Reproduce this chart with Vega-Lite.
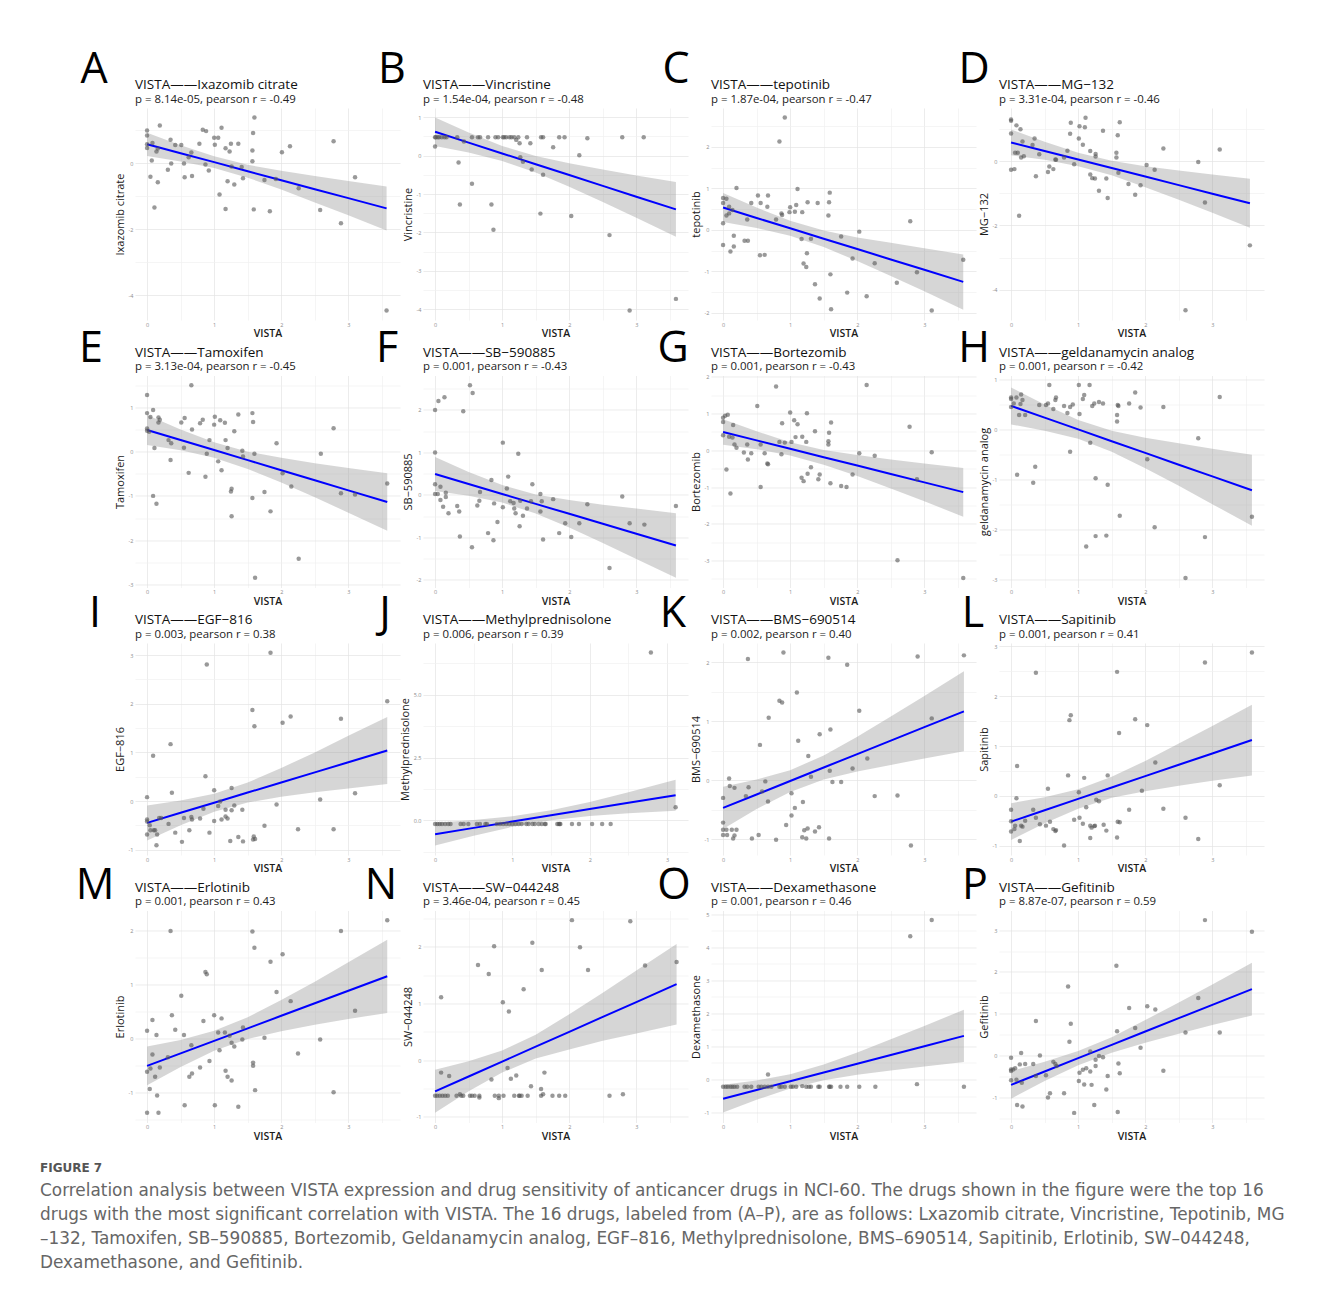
{
"$schema":"https://vega.github.io/schema/vega-lite/v6.json",
"padding":{"left":40,"top":49,"right":10,"bottom":10},
"background":"white",
"bounds":"flush",
"columns":4,
"spacing":{"row":55.5,"column":23},
"title":{"text":"FIGURE 7","subtitle":["Correlation analysis between VISTA expression and drug sensitivity of anticancer drugs in NCI-60. The drugs shown in the figure were the top 16","drugs with the most significant correlation with VISTA. The 16 drugs, labeled from (A–P), are as follows: Lxazomib citrate, Vincristine, Tepotinib, MG","–132, Tamoxifen, SB–590885, Bortezomib, Geldanamycin analog, EGF–816, Methylprednisolone, BMS–690514, Sapitinib, Erlotinib, SW–044248,","Dexamethasone, and Gefitinib."],"orient":"bottom","anchor":"start","frame":"group","dx":-95,"offset":21,"font":"DejaVu Sans","fontSize":12,"fontWeight":600,"color":"#555555","subtitleFont":"DejaVu Sans","subtitleFontSize":16.9,"subtitleColor":"#666666","subtitleLineHeight":24,"subtitlePadding":8},
"config":{
"font":"Open Sans",
"view":{"stroke":null},
"axis":{"labelFontSize":5.5,"labelColor":"#8c8c8c","labelPadding":2,"ticks":false,"domain":false,"gridWidth":0.7,"titleFont":"Open Sans","titleFontSize":11,"titleFontWeight":"normal","titleColor":"#1a1a1a"},
"axisX":{"titlePadding":1,"titleFontWeight":600,"titleFontSize":10.5},
"axisY":{"titlePadding":3},
"title":{"anchor":"start","frame":"group","font":"Open Sans","fontSize":13.5,"fontWeight":"normal","color":"#111111","subtitleFont":"Open Sans","subtitleFontSize":11.4,"subtitleColor":"#222222","subtitlePadding":2},
"area":{"color":"#999999","opacity":0.4},
"line":{"color":"#0000FF","strokeWidth":2},
"circle":{"color":"#555555","opacity":0.6,"size":20},
"text":{"font":"Open Sans","fontSize":43,"align":"center","baseline":"alphabetic","color":"#000000"}
},
"datasets":{
"fit":[
{"p":"A","x":0,"y":0.57,"lo":0.22,"hi":0.92},{"p":"A","x":0.5,"y":0.30,"lo":0.05,"hi":0.54},{"p":"A","x":1,"y":0.03,"lo":-0.15,"hi":0.21},{"p":"A","x":1.5,"y":-0.245,"lo":-0.44,"hi":-0.05},{"p":"A","x":2,"y":-0.516,"lo":-0.80,"hi":-0.23},{"p":"A","x":2.5,"y":-0.788,"lo":-1.19,"hi":-0.39},{"p":"A","x":3,"y":-1.059,"lo":-1.58,"hi":-0.54},{"p":"A","x":3.57,"y":-1.37,"lo":-2.04,"hi":-0.71},
{"p":"B","x":0,"y":0.62,"lo":0.25,"hi":0.99},{"p":"B","x":0.5,"y":0.339,"lo":0.08,"hi":0.60},{"p":"B","x":1,"y":0.057,"lo":-0.14,"hi":0.25},{"p":"B","x":1.5,"y":-0.225,"lo":-0.44,"hi":-0.01},{"p":"B","x":2,"y":-0.506,"lo":-0.81,"hi":-0.20},{"p":"B","x":2.5,"y":-0.788,"lo":-1.21,"hi":-0.36},{"p":"B","x":3,"y":-1.069,"lo":-1.62,"hi":-0.52},{"p":"B","x":3.59,"y":-1.40,"lo":-2.11,"hi":-0.69},
{"p":"C","x":0,"y":0.54,"lo":0.19,"hi":0.89},{"p":"C","x":0.5,"y":0.29,"lo":0.05,"hi":0.54},{"p":"C","x":1,"y":0.04,"lo":-0.14,"hi":0.22},{"p":"C","x":1.5,"y":-0.21,"lo":-0.41,"hi":-0.01},{"p":"C","x":2,"y":-0.46,"lo":-0.75,"hi":-0.18},{"p":"C","x":2.5,"y":-0.71,"lo":-1.11,"hi":-0.31},{"p":"C","x":3,"y":-0.96,"lo":-1.48,"hi":-0.44},{"p":"C","x":3.58,"y":-1.25,"lo":-1.92,"hi":-0.59},
{"p":"D","x":0,"y":0.58,"lo":0.18,"hi":0.98},{"p":"D","x":0.5,"y":0.315,"lo":0.04,"hi":0.60},{"p":"D","x":1,"y":0.049,"lo":-0.16,"hi":0.26},{"p":"D","x":1.5,"y":-0.217,"lo":-0.44,"hi":0.01},{"p":"D","x":2,"y":-0.482,"lo":-0.81,"hi":-0.16},{"p":"D","x":2.5,"y":-0.748,"lo":-1.20,"hi":-0.29},{"p":"D","x":3,"y":-1.013,"lo":-1.61,"hi":-0.42},{"p":"D","x":3.56,"y":-1.31,"lo":-2.07,"hi":-0.55},
{"p":"E","x":0,"y":0.49,"lo":0.15,"hi":0.83},{"p":"E","x":0.5,"y":0.263,"lo":0.03,"hi":0.50},{"p":"E","x":1,"y":0.035,"lo":-0.14,"hi":0.21},{"p":"E","x":1.5,"y":-0.193,"lo":-0.39,"hi":0.0},{"p":"E","x":2,"y":-0.42,"lo":-0.70,"hi":-0.14},{"p":"E","x":2.5,"y":-0.648,"lo":-1.03,"hi":-0.26},{"p":"E","x":3,"y":-0.875,"lo":-1.38,"hi":-0.37},{"p":"E","x":3.58,"y":-1.14,"lo":-1.79,"hi":-0.49},
{"p":"F","x":0,"y":0.49,"lo":0.09,"hi":0.89},{"p":"F","x":0.5,"y":0.256,"lo":-0.02,"hi":0.54},{"p":"F","x":1,"y":0.022,"lo":-0.18,"hi":0.23},{"p":"F","x":1.5,"y":-0.212,"lo":-0.44,"hi":0.01},{"p":"F","x":2,"y":-0.446,"lo":-0.77,"hi":-0.12},{"p":"F","x":2.5,"y":-0.68,"lo":-1.13,"hi":-0.23},{"p":"F","x":3,"y":-0.914,"lo":-1.51,"hi":-0.32},{"p":"F","x":3.59,"y":-1.19,"lo":-1.95,"hi":-0.43},
{"p":"G","x":0,"y":0.5,"lo":0.15,"hi":0.85},{"p":"G","x":0.5,"y":0.271,"lo":0.03,"hi":0.52},{"p":"G","x":1,"y":0.042,"lo":-0.14,"hi":0.22},{"p":"G","x":1.5,"y":-0.187,"lo":-0.39,"hi":0.01},{"p":"G","x":2,"y":-0.416,"lo":-0.70,"hi":-0.13},{"p":"G","x":2.5,"y":-0.645,"lo":-1.04,"hi":-0.25},{"p":"G","x":3,"y":-0.874,"lo":-1.39,"hi":-0.36},{"p":"G","x":3.58,"y":-1.14,"lo":-1.81,"hi":-0.48},
{"p":"H","x":0,"y":0.48,"lo":0.11,"hi":0.85},{"p":"H","x":0.5,"y":0.245,"lo":-0.02,"hi":0.51},{"p":"H","x":1,"y":0.009,"lo":-0.18,"hi":0.20},{"p":"H","x":1.5,"y":-0.227,"lo":-0.44,"hi":-0.02},{"p":"H","x":2,"y":-0.462,"lo":-0.77,"hi":-0.16},{"p":"H","x":2.5,"y":-0.698,"lo":-1.12,"hi":-0.27},{"p":"H","x":3,"y":-0.933,"lo":-1.49,"hi":-0.38},{"p":"H","x":3.59,"y":-1.21,"lo":-1.92,"hi":-0.50},
{"p":"I","x":0,"y":-0.45,"lo":-0.81,"hi":-0.09},{"p":"I","x":0.5,"y":-0.242,"lo":-0.50,"hi":0.01},{"p":"I","x":1,"y":-0.034,"lo":-0.22,"hi":0.15},{"p":"I","x":1.5,"y":0.174,"lo":-0.03,"hi":0.38},{"p":"I","x":2,"y":0.382,"lo":0.09,"hi":0.68},{"p":"I","x":2.5,"y":0.59,"lo":0.18,"hi":1.00},{"p":"I","x":3,"y":0.798,"lo":0.26,"hi":1.34},{"p":"I","x":3.58,"y":1.04,"lo":0.35,"hi":1.73},
{"p":"J","x":0,"y":-0.55,"lo":-1.0,"hi":-0.1},{"p":"J","x":0.5,"y":-0.30,"lo":-0.61,"hi":0.01},{"p":"J","x":1,"y":-0.05,"lo":-0.26,"hi":0.16},{"p":"J","x":1.5,"y":0.20,"lo":0.0,"hi":0.40},{"p":"J","x":2,"y":0.45,"lo":0.17,"hi":0.73},{"p":"J","x":2.5,"y":0.70,"lo":0.28,"hi":1.12},{"p":"J","x":3.11,"y":1.0,"lo":0.38,"hi":1.62},
{"p":"K","x":0,"y":-0.47,"lo":-0.83,"hi":-0.11},{"p":"K","x":0.5,"y":-0.242,"lo":-0.49,"hi":0.01},{"p":"K","x":1,"y":-0.013,"lo":-0.20,"hi":0.17},{"p":"K","x":1.5,"y":0.216,"lo":0.01,"hi":0.42},{"p":"K","x":2,"y":0.444,"lo":0.15,"hi":0.74},{"p":"K","x":2.5,"y":0.673,"lo":0.26,"hi":1.08},{"p":"K","x":3,"y":0.901,"lo":0.37,"hi":1.43},{"p":"K","x":3.59,"y":1.17,"lo":0.49,"hi":1.85},
{"p":"L","x":0,"y":-0.52,"lo":-0.89,"hi":-0.15},{"p":"L","x":0.5,"y":-0.292,"lo":-0.55,"hi":-0.03},{"p":"L","x":1,"y":-0.063,"lo":-0.26,"hi":0.13},{"p":"L","x":1.5,"y":0.166,"lo":-0.04,"hi":0.38},{"p":"L","x":2,"y":0.394,"lo":0.09,"hi":0.70},{"p":"L","x":2.5,"y":0.623,"lo":0.20,"hi":1.05},{"p":"L","x":3,"y":0.851,"lo":0.30,"hi":1.40},{"p":"L","x":3.59,"y":1.12,"lo":0.41,"hi":1.83},
{"p":"M","x":0,"y":-0.5,"lo":-0.86,"hi":-0.14},{"p":"M","x":0.5,"y":-0.268,"lo":-0.52,"hi":-0.02},{"p":"M","x":1,"y":-0.036,"lo":-0.22,"hi":0.15},{"p":"M","x":1.5,"y":0.196,"lo":0.0,"hi":0.40},{"p":"M","x":2,"y":0.428,"lo":0.14,"hi":0.72},{"p":"M","x":2.5,"y":0.66,"lo":0.26,"hi":1.06},{"p":"M","x":3,"y":0.892,"lo":0.37,"hi":1.42},{"p":"M","x":3.58,"y":1.16,"lo":0.48,"hi":1.84},
{"p":"N","x":0,"y":-0.55,"lo":-0.93,"hi":-0.17},{"p":"N","x":0.5,"y":-0.288,"lo":-0.55,"hi":-0.02},{"p":"N","x":1,"y":-0.025,"lo":-0.22,"hi":0.17},{"p":"N","x":1.5,"y":0.238,"lo":0.03,"hi":0.45},{"p":"N","x":2,"y":0.5,"lo":0.19,"hi":0.81},{"p":"N","x":2.5,"y":0.763,"lo":0.34,"hi":1.19},{"p":"N","x":3,"y":1.025,"lo":0.47,"hi":1.58},{"p":"N","x":3.6,"y":1.34,"lo":0.63,"hi":2.05},
{"p":"O","x":0,"y":-0.58,"lo":-1.0,"hi":-0.16},{"p":"O","x":0.5,"y":-0.316,"lo":-0.61,"hi":-0.03},{"p":"O","x":1,"y":-0.051,"lo":-0.27,"hi":0.16},{"p":"O","x":1.5,"y":0.214,"lo":-0.02,"hi":0.45},{"p":"O","x":2,"y":0.478,"lo":0.14,"hi":0.82},{"p":"O","x":2.5,"y":0.743,"lo":0.27,"hi":1.22},{"p":"O","x":3,"y":1.007,"lo":0.39,"hi":1.62},{"p":"O","x":3.59,"y":1.32,"lo":0.53,"hi":2.11},
{"p":"P","x":0,"y":-0.7,"lo":-1.03,"hi":-0.37},{"p":"P","x":0.5,"y":-0.381,"lo":-0.61,"hi":-0.15},{"p":"P","x":1,"y":-0.062,"lo":-0.23,"hi":0.11},{"p":"P","x":1.5,"y":0.257,"lo":0.07,"hi":0.44},{"p":"P","x":2,"y":0.576,"lo":0.31,"hi":0.85},{"p":"P","x":2.5,"y":0.895,"lo":0.52,"hi":1.27},{"p":"P","x":3,"y":1.214,"lo":0.73,"hi":1.70},{"p":"P","x":3.59,"y":1.59,"lo":0.96,"hi":2.22}
],
"pts":[
{"p":"A","x":0,"y":0.99},{"p":"A","x":0,"y":0.84},{"p":"A","x":0,"y":0.57},{"p":"A","x":0,"y":0.46},{"p":"A","x":0.08,"y":0.61},{"p":"A","x":0.07,"y":0.08},{"p":"A","x":0.05,"y":-0.41},{"p":"A","x":0.11,"y":-1.34},{"p":"A","x":0.14,"y":0.35},{"p":"A","x":0.16,"y":-0.58},{"p":"A","x":0.16,"y":0.44},{"p":"A","x":0.19,"y":1.14},{"p":"A","x":0.31,"y":-0.2},{"p":"A","x":0.35,"y":0.71},{"p":"A","x":0.36,"y":-0.01},{"p":"A","x":0.42,"y":0.55},{"p":"A","x":0.51,"y":0.55},{"p":"A","x":0.55,"y":-0.01},{"p":"A","x":0.56,"y":-0.43},{"p":"A","x":0.62,"y":0.18},{"p":"A","x":0.66,"y":0.32},{"p":"A","x":0.67,"y":-0.39},{"p":"A","x":0.78,"y":0.59},{"p":"A","x":0.83,"y":1.01},{"p":"A","x":0.88,"y":0.97},{"p":"A","x":0.87,"y":-0.04},{"p":"A","x":0.92,"y":-0.22},{"p":"A","x":1.0,"y":0.77},{"p":"A","x":1.06,"y":0.77},{"p":"A","x":1.01,"y":0.56},{"p":"A","x":1.08,"y":-0.95},{"p":"A","x":1.11,"y":1.07},{"p":"A","x":1.17,"y":0.45},{"p":"A","x":1.17,"y":-1.39},{"p":"A","x":1.2,"y":-0.55},{"p":"A","x":1.23,"y":0.35},{"p":"A","x":1.25,"y":0.59},{"p":"A","x":1.26,"y":-0.1},{"p":"A","x":1.3,"y":-0.65},{"p":"A","x":1.36,"y":0.59},{"p":"A","x":1.41,"y":-0.12},{"p":"A","x":1.43,"y":-0.46},{"p":"A","x":1.57,"y":0.38},{"p":"A","x":1.57,"y":0.06},{"p":"A","x":1.58,"y":0.91},{"p":"A","x":1.6,"y":1.38},{"p":"A","x":1.59,"y":-1.4},{"p":"A","x":1.75,"y":-0.51},{"p":"A","x":1.83,"y":-1.46},{"p":"A","x":1.92,"y":-0.48},{"p":"A","x":2.01,"y":0.33},{"p":"A","x":2.13,"y":0.51},{"p":"A","x":2.26,"y":-0.76},{"p":"A","x":2.58,"y":-1.42},{"p":"A","x":2.78,"y":0.66},{"p":"A","x":2.89,"y":-1.82},{"p":"A","x":3.1,"y":-0.43},{"p":"A","x":3.57,"y":-4.46},
{"p":"B","x":0,"y":0.48},{"p":"B","x":0.01,"y":0.48},{"p":"B","x":0.04,"y":0.48},{"p":"B","x":0.06,"y":0.48},{"p":"B","x":0.1,"y":0.48},{"p":"B","x":0.14,"y":0.48},{"p":"B","x":0.17,"y":0.48},{"p":"B","x":0.33,"y":0.48},{"p":"B","x":0.55,"y":0.48},{"p":"B","x":0.64,"y":0.48},{"p":"B","x":0.67,"y":0.48},{"p":"B","x":0.79,"y":0.48},{"p":"B","x":0.9,"y":0.48},{"p":"B","x":0.94,"y":0.48},{"p":"B","x":1.01,"y":0.48},{"p":"B","x":1.03,"y":0.48},{"p":"B","x":1.06,"y":0.48},{"p":"B","x":1.11,"y":0.48},{"p":"B","x":1.14,"y":0.48},{"p":"B","x":1.18,"y":0.48},{"p":"B","x":1.24,"y":0.48},{"p":"B","x":1.37,"y":0.48},{"p":"B","x":1.58,"y":0.48},{"p":"B","x":1.61,"y":0.48},{"p":"B","x":1.85,"y":0.48},{"p":"B","x":1.93,"y":0.48},{"p":"B","x":2.79,"y":0.48},{"p":"B","x":3.11,"y":0.48},{"p":"B","x":0,"y":0.24},{"p":"B","x":0.35,"y":-0.18},{"p":"B","x":0.43,"y":0.37},{"p":"B","x":0.55,"y":-0.73},{"p":"B","x":0.37,"y":-1.27},{"p":"B","x":0.84,"y":-1.27},{"p":"B","x":0.87,"y":-1.93},{"p":"B","x":1.21,"y":0.41},{"p":"B","x":1.26,"y":0.32},{"p":"B","x":1.27,"y":-0.04},{"p":"B","x":1.31,"y":-0.16},{"p":"B","x":1.42,"y":0.32},{"p":"B","x":1.44,"y":-0.36},{"p":"B","x":1.57,"y":-1.51},{"p":"B","x":1.61,"y":-0.5},{"p":"B","x":1.76,"y":0.22},{"p":"B","x":2.03,"y":-1.57},{"p":"B","x":2.15,"y":0.01},{"p":"B","x":2.27,"y":0.45},{"p":"B","x":2.6,"y":-2.07},{"p":"B","x":2.9,"y":-4.03},{"p":"B","x":3.59,"y":-3.73},
{"p":"C","x":0,"y":0.77},{"p":"C","x":0.05,"y":0.75},{"p":"C","x":0,"y":0.65},{"p":"C","x":0,"y":0.16},{"p":"C","x":0,"y":-0.36},{"p":"C","x":0.05,"y":0.35},{"p":"C","x":0.09,"y":0.56},{"p":"C","x":0.09,"y":0.4},{"p":"C","x":0.14,"y":0.48},{"p":"C","x":0.2,"y":1.01},{"p":"C","x":0.11,"y":-0.52},{"p":"C","x":0.16,"y":-0.14},{"p":"C","x":0.16,"y":-0.4},{"p":"C","x":0.32,"y":-0.26},{"p":"C","x":0.37,"y":-0.26},{"p":"C","x":0.36,"y":0.25},{"p":"C","x":0.42,"y":0.65},{"p":"C","x":0.52,"y":0.83},{"p":"C","x":0.55,"y":-0.61},{"p":"C","x":0.62,"y":-0.6},{"p":"C","x":0.56,"y":0.65},{"p":"C","x":0.66,"y":0.56},{"p":"C","x":0.67,"y":0.83},{"p":"C","x":0.79,"y":0.25},{"p":"C","x":0.84,"y":2.13},{"p":"C","x":0.87,"y":0.4},{"p":"C","x":0.88,"y":0.36},{"p":"C","x":0.92,"y":2.71},{"p":"C","x":0.99,"y":0.43},{"p":"C","x":1.0,"y":0.55},{"p":"C","x":1.07,"y":0.44},{"p":"C","x":1.09,"y":0.6},{"p":"C","x":1.11,"y":0.99},{"p":"C","x":1.18,"y":0.43},{"p":"C","x":1.17,"y":-0.22},{"p":"C","x":1.2,"y":-0.81},{"p":"C","x":1.24,"y":-0.89},{"p":"C","x":1.26,"y":0.67},{"p":"C","x":1.25,"y":-0.56},{"p":"C","x":1.31,"y":-0.21},{"p":"C","x":1.37,"y":-1.31},{"p":"C","x":1.41,"y":0.65},{"p":"C","x":1.44,"y":-1.65},{"p":"C","x":1.57,"y":0.35},{"p":"C","x":1.58,"y":0.67},{"p":"C","x":1.59,"y":0.9},{"p":"C","x":1.6,"y":-1.07},{"p":"C","x":1.61,"y":-1.91},{"p":"C","x":1.76,"y":-0.16},{"p":"C","x":1.85,"y":-1.51},{"p":"C","x":1.93,"y":-0.69},{"p":"C","x":2.03,"y":-0.04},{"p":"C","x":2.14,"y":-1.6},{"p":"C","x":2.26,"y":-0.8},{"p":"C","x":2.59,"y":-1.27},{"p":"C","x":2.79,"y":0.21},{"p":"C","x":2.89,"y":-1.02},{"p":"C","x":3.11,"y":-1.94},{"p":"C","x":3.58,"y":-0.72},
{"p":"D","x":0,"y":1.29},{"p":"D","x":0,"y":1.25},{"p":"D","x":0,"y":0.86},{"p":"D","x":0,"y":-0.27},{"p":"D","x":0.05,"y":-0.25},{"p":"D","x":0.08,"y":1.11},{"p":"D","x":0.06,"y":0.26},{"p":"D","x":0.1,"y":0.26},{"p":"D","x":0.14,"y":0.99},{"p":"D","x":0.12,"y":-1.7},{"p":"D","x":0.15,"y":0.11},{"p":"D","x":0.17,"y":0.61},{"p":"D","x":0.19,"y":0.15},{"p":"D","x":0.32,"y":0.5},{"p":"D","x":0.35,"y":0.7},{"p":"D","x":0.37,"y":-0.47},{"p":"D","x":0.42,"y":0.21},{"p":"D","x":0.55,"y":-0.34},{"p":"D","x":0.57,"y":-0.17},{"p":"D","x":0.63,"y":-0.25},{"p":"D","x":0.66,"y":0.05},{"p":"D","x":0.67,"y":0.04},{"p":"D","x":0.79,"y":0.11},{"p":"D","x":0.84,"y":0.32},{"p":"D","x":0.88,"y":0.85},{"p":"D","x":0.89,"y":1.19},{"p":"D","x":0.94,"y":-0.1},{"p":"D","x":1.01,"y":0.7},{"p":"D","x":1.02,"y":1.08},{"p":"D","x":1.07,"y":0.51},{"p":"D","x":1.1,"y":1.05},{"p":"D","x":1.11,"y":1.35},{"p":"D","x":1.18,"y":0.31},{"p":"D","x":1.18,"y":-0.42},{"p":"D","x":1.21,"y":-0.53},{"p":"D","x":1.25,"y":-0.54},{"p":"D","x":1.26,"y":0.22},{"p":"D","x":1.26,"y":0.14},{"p":"D","x":1.31,"y":-0.92},{"p":"D","x":1.37,"y":0.94},{"p":"D","x":1.42,"y":-0.54},{"p":"D","x":1.44,"y":-1.15},{"p":"D","x":1.57,"y":0.26},{"p":"D","x":1.57,"y":0.11},{"p":"D","x":1.59,"y":0.8},{"p":"D","x":1.6,"y":-0.36},{"p":"D","x":1.62,"y":1.21},{"p":"D","x":1.75,"y":-0.71},{"p":"D","x":1.85,"y":-1.05},{"p":"D","x":1.93,"y":-0.75},{"p":"D","x":2.02,"y":-0.12},{"p":"D","x":2.14,"y":-0.27},{"p":"D","x":2.27,"y":0.39},{"p":"D","x":2.79,"y":-0.03},{"p":"D","x":2.89,"y":-1.29},{"p":"D","x":3.11,"y":0.36},{"p":"D","x":2.6,"y":-4.64},{"p":"D","x":3.56,"y":-2.62},
{"p":"E","x":0,"y":1.28},{"p":"E","x":0,"y":0.87},{"p":"E","x":0,"y":0.52},{"p":"E","x":0,"y":0.47},{"p":"E","x":0.03,"y":0.45},{"p":"E","x":0.05,"y":0.78},{"p":"E","x":0.09,"y":0.94},{"p":"E","x":0.09,"y":-1.0},{"p":"E","x":0.11,"y":0.08},{"p":"E","x":0.14,"y":-1.18},{"p":"E","x":0.17,"y":0.77},{"p":"E","x":0.17,"y":0.66},{"p":"E","x":0.19,"y":0.72},{"p":"E","x":0.32,"y":0.26},{"p":"E","x":0.36,"y":0.19},{"p":"E","x":0.35,"y":-0.19},{"p":"E","x":0.51,"y":0.66},{"p":"E","x":0.55,"y":0.09},{"p":"E","x":0.56,"y":0.76},{"p":"E","x":0.62,"y":-0.48},{"p":"E","x":0.66,"y":1.5},{"p":"E","x":0.67,"y":0.5},{"p":"E","x":0.79,"y":0.64},{"p":"E","x":0.83,"y":0.72},{"p":"E","x":0.87,"y":-0.57},{"p":"E","x":0.89,"y":-0.05},{"p":"E","x":0.93,"y":0.26},{"p":"E","x":1.0,"y":0.61},{"p":"E","x":1.01,"y":0.79},{"p":"E","x":1.06,"y":-0.22},{"p":"E","x":1.09,"y":0.71},{"p":"E","x":1.11,"y":-0.42},{"p":"E","x":1.16,"y":0.65},{"p":"E","x":1.17,"y":0.26},{"p":"E","x":1.2,"y":0.08},{"p":"E","x":1.25,"y":-0.9},{"p":"E","x":1.26,"y":-0.84},{"p":"E","x":1.26,"y":-1.46},{"p":"E","x":1.3,"y":0.46},{"p":"E","x":1.36,"y":0.84},{"p":"E","x":1.42,"y":0.02},{"p":"E","x":1.43,"y":-0.11},{"p":"E","x":1.57,"y":0.87},{"p":"E","x":1.58,"y":0.67},{"p":"E","x":1.57,"y":-1.05},{"p":"E","x":1.6,"y":-0.05},{"p":"E","x":1.61,"y":-2.85},{"p":"E","x":1.75,"y":-0.91},{"p":"E","x":1.84,"y":-1.35},{"p":"E","x":1.93,"y":0.19},{"p":"E","x":2.02,"y":-0.49},{"p":"E","x":2.15,"y":-0.79},{"p":"E","x":2.26,"y":-2.42},{"p":"E","x":2.59,"y":-0.05},{"p":"E","x":2.78,"y":0.53},{"p":"E","x":2.89,"y":-0.94},{"p":"E","x":3.1,"y":-0.97},{"p":"E","x":3.58,"y":-0.72},
{"p":"F","x":0,"y":2.0},{"p":"F","x":0,"y":1.0},{"p":"F","x":0,"y":0.25},{"p":"F","x":0,"y":0.02},{"p":"F","x":0.05,"y":2.21},{"p":"F","x":0.14,"y":2.3},{"p":"F","x":0.04,"y":0.02},{"p":"F","x":0.08,"y":0.19},{"p":"F","x":0.08,"y":-0.12},{"p":"F","x":0.12,"y":-0.28},{"p":"F","x":0.16,"y":0.05},{"p":"F","x":0.16,"y":-0.05},{"p":"F","x":0.2,"y":-0.43},{"p":"F","x":0.33,"y":-0.26},{"p":"F","x":0.36,"y":-0.39},{"p":"F","x":0.37,"y":-0.98},{"p":"F","x":0.42,"y":1.97},{"p":"F","x":0.52,"y":2.58},{"p":"F","x":0.56,"y":2.4},{"p":"F","x":0.55,"y":-1.23},{"p":"F","x":0.63,"y":-0.25},{"p":"F","x":0.66,"y":-0.14},{"p":"F","x":0.67,"y":0.07},{"p":"F","x":0.79,"y":-0.9},{"p":"F","x":0.84,"y":0.35},{"p":"F","x":0.88,"y":-0.2},{"p":"F","x":0.87,"y":-1.07},{"p":"F","x":0.93,"y":-0.64},{"p":"F","x":1.01,"y":1.23},{"p":"F","x":1.01,"y":-0.29},{"p":"F","x":1.07,"y":0.15},{"p":"F","x":1.09,"y":0.43},{"p":"F","x":1.12,"y":-0.15},{"p":"F","x":1.17,"y":-0.19},{"p":"F","x":1.18,"y":-0.32},{"p":"F","x":1.2,"y":-0.43},{"p":"F","x":1.24,"y":0.97},{"p":"F","x":1.26,"y":-0.74},{"p":"F","x":1.27,"y":-0.14},{"p":"F","x":1.31,"y":-0.49},{"p":"F","x":1.37,"y":-0.32},{"p":"F","x":1.43,"y":-0.15},{"p":"F","x":1.45,"y":0.25},{"p":"F","x":1.57,"y":0.02},{"p":"F","x":1.57,"y":-0.39},{"p":"F","x":1.59,"y":-0.15},{"p":"F","x":1.61,"y":-1.05},{"p":"F","x":1.76,"y":-0.1},{"p":"F","x":1.85,"y":-0.9},{"p":"F","x":1.94,"y":-0.67},{"p":"F","x":2.03,"y":-0.99},{"p":"F","x":2.15,"y":-0.67},{"p":"F","x":2.27,"y":-0.22},{"p":"F","x":2.6,"y":-1.72},{"p":"F","x":2.79,"y":-0.04},{"p":"F","x":2.9,"y":-0.67},{"p":"F","x":3.12,"y":-0.7},{"p":"F","x":3.59,"y":-0.26},
{"p":"G","x":0,"y":0.89},{"p":"G","x":0,"y":0.77},{"p":"G","x":0.03,"y":0.94},{"p":"G","x":0.07,"y":0.97},{"p":"G","x":0,"y":0.41},{"p":"G","x":0.09,"y":0.37},{"p":"G","x":0.14,"y":0.35},{"p":"G","x":0.15,"y":0.69},{"p":"G","x":0.17,"y":0.16},{"p":"G","x":0.2,"y":0.07},{"p":"G","x":0.05,"y":-0.52},{"p":"G","x":0.11,"y":-1.18},{"p":"G","x":0.31,"y":-0.06},{"p":"G","x":0.36,"y":0.16},{"p":"G","x":0.37,"y":-0.25},{"p":"G","x":0.42,"y":-0.08},{"p":"G","x":0.51,"y":1.21},{"p":"G","x":0.56,"y":0.16},{"p":"G","x":0.56,"y":-1.0},{"p":"G","x":0.62,"y":-0.08},{"p":"G","x":0.66,"y":-0.36},{"p":"G","x":0.67,"y":-0.38},{"p":"G","x":0.79,"y":1.74},{"p":"G","x":0.84,"y":0.23},{"p":"G","x":0.87,"y":-0.11},{"p":"G","x":0.88,"y":0.74},{"p":"G","x":0.92,"y":0.21},{"p":"G","x":1.0,"y":1.03},{"p":"G","x":1.02,"y":0.23},{"p":"G","x":1.06,"y":0.82},{"p":"G","x":1.08,"y":0.36},{"p":"G","x":1.11,"y":0.71},{"p":"G","x":1.17,"y":-0.75},{"p":"G","x":1.18,"y":0.37},{"p":"G","x":1.2,"y":-0.84},{"p":"G","x":1.24,"y":0.23},{"p":"G","x":1.25,"y":1.01},{"p":"G","x":1.26,"y":-0.64},{"p":"G","x":1.31,"y":-0.46},{"p":"G","x":1.37,"y":0.52},{"p":"G","x":1.42,"y":-0.79},{"p":"G","x":1.44,"y":-0.66},{"p":"G","x":1.57,"y":0.25},{"p":"G","x":1.57,"y":0.16},{"p":"G","x":1.58,"y":0.48},{"p":"G","x":1.61,"y":0.76},{"p":"G","x":1.6,"y":-0.9},{"p":"G","x":1.76,"y":-0.97},{"p":"G","x":1.84,"y":-1.0},{"p":"G","x":1.93,"y":-0.66},{"p":"G","x":2.03,"y":-0.08},{"p":"G","x":2.14,"y":1.78},{"p":"G","x":2.26,"y":-0.15},{"p":"G","x":2.6,"y":-3.0},{"p":"G","x":2.78,"y":0.64},{"p":"G","x":2.89,"y":-0.79},{"p":"G","x":3.11,"y":-0.05},{"p":"G","x":3.58,"y":-3.48},
{"p":"H","x":0,"y":0.65},{"p":"H","x":0,"y":0.62},{"p":"H","x":0,"y":0.46},{"p":"H","x":0.04,"y":0.53},{"p":"H","x":0.08,"y":0.65},{"p":"H","x":0.09,"y":-0.9},{"p":"H","x":0.12,"y":0.3},{"p":"H","x":0.14,"y":0.52},{"p":"H","x":0.15,"y":0.71},{"p":"H","x":0.17,"y":0.6},{"p":"H","x":0.21,"y":0.3},{"p":"H","x":0.33,"y":-1.06},{"p":"H","x":0.36,"y":-0.74},{"p":"H","x":0.42,"y":0.5},{"p":"H","x":0.52,"y":0.5},{"p":"H","x":0.55,"y":0.53},{"p":"H","x":0.57,"y":0.9},{"p":"H","x":0.63,"y":0.42},{"p":"H","x":0.66,"y":0.6},{"p":"H","x":0.67,"y":0.65},{"p":"H","x":0.79,"y":0.48},{"p":"H","x":0.84,"y":0.34},{"p":"H","x":0.88,"y":0.46},{"p":"H","x":0.88,"y":-0.44},{"p":"H","x":0.92,"y":0.51},{"p":"H","x":1.01,"y":0.9},{"p":"H","x":1.02,"y":0.32},{"p":"H","x":1.07,"y":0.62},{"p":"H","x":1.09,"y":0.7},{"p":"H","x":1.12,"y":-2.34},{"p":"H","x":1.17,"y":0.9},{"p":"H","x":1.18,"y":-0.26},{"p":"H","x":1.21,"y":0.48},{"p":"H","x":1.24,"y":0.53},{"p":"H","x":1.26,"y":-0.97},{"p":"H","x":1.26,"y":-2.13},{"p":"H","x":1.31,"y":0.56},{"p":"H","x":1.37,"y":0.53},{"p":"H","x":1.42,"y":-2.12},{"p":"H","x":1.44,"y":-1.1},{"p":"H","x":1.58,"y":0.17},{"p":"H","x":1.58,"y":0.3},{"p":"H","x":1.59,"y":0.5},{"p":"H","x":1.6,"y":0.48},{"p":"H","x":1.62,"y":-1.72},{"p":"H","x":1.76,"y":0.53},{"p":"H","x":1.85,"y":0.75},{"p":"H","x":1.93,"y":0.45},{"p":"H","x":2.03,"y":-0.59},{"p":"H","x":2.14,"y":-1.95},{"p":"H","x":2.27,"y":0.46},{"p":"H","x":2.6,"y":-2.97},{"p":"H","x":2.79,"y":-0.17},{"p":"H","x":2.89,"y":-2.15},{"p":"H","x":3.11,"y":0.66},{"p":"H","x":3.59,"y":-1.74},
{"p":"I","x":0,"y":0.08},{"p":"I","x":0,"y":-0.38},{"p":"I","x":0,"y":-0.42},{"p":"I","x":0,"y":-0.69},{"p":"I","x":0.04,"y":-0.5},{"p":"I","x":0.05,"y":-0.6},{"p":"I","x":0.09,"y":0.93},{"p":"I","x":0.1,"y":-0.6},{"p":"I","x":0.12,"y":-0.6},{"p":"I","x":0.14,"y":-0.91},{"p":"I","x":0.15,"y":-0.69},{"p":"I","x":0.18,"y":-0.35},{"p":"I","x":0.21,"y":-0.35},{"p":"I","x":0.32,"y":-0.47},{"p":"I","x":0.35,"y":1.17},{"p":"I","x":0.37,"y":0.17},{"p":"I","x":0.42,"y":-0.65},{"p":"I","x":0.52,"y":-0.84},{"p":"I","x":0.55,"y":-0.35},{"p":"I","x":0.63,"y":-0.6},{"p":"I","x":0.66,"y":-0.33},{"p":"I","x":0.67,"y":-0.38},{"p":"I","x":0.79,"y":-0.36},{"p":"I","x":0.84,"y":-0.16},{"p":"I","x":0.87,"y":0.51},{"p":"I","x":0.89,"y":2.81},{"p":"I","x":0.93,"y":-0.65},{"p":"I","x":1.0,"y":0.22},{"p":"I","x":1.0,"y":-0.41},{"p":"I","x":1.06,"y":-0.1},{"p":"I","x":1.09,"y":-0.01},{"p":"I","x":1.11,"y":-0.38},{"p":"I","x":1.17,"y":-0.32},{"p":"I","x":1.17,"y":-0.18},{"p":"I","x":1.2,"y":-0.36},{"p":"I","x":1.24,"y":-0.82},{"p":"I","x":1.26,"y":0.27},{"p":"I","x":1.26,"y":-0.19},{"p":"I","x":1.3,"y":-0.09},{"p":"I","x":1.36,"y":-0.74},{"p":"I","x":1.42,"y":-0.18},{"p":"I","x":1.43,"y":-0.83},{"p":"I","x":1.57,"y":1.87},{"p":"I","x":1.58,"y":-0.79},{"p":"I","x":1.59,"y":-0.73},{"p":"I","x":1.6,"y":1.54},{"p":"I","x":1.61,"y":-0.78},{"p":"I","x":1.75,"y":-0.51},{"p":"I","x":1.84,"y":3.05},{"p":"I","x":1.93,"y":-0.07},{"p":"I","x":2.02,"y":1.61},{"p":"I","x":2.14,"y":1.74},{"p":"I","x":2.25,"y":-0.58},{"p":"I","x":2.58,"y":0.03},{"p":"I","x":2.78,"y":-0.58},{"p":"I","x":2.89,"y":1.69},{"p":"I","x":3.1,"y":0.16},{"p":"I","x":3.58,"y":2.05},
{"p":"J","x":0,"y":-0.15},{"p":"J","x":0.03,"y":-0.15},{"p":"J","x":0.06,"y":-0.15},{"p":"J","x":0.09,"y":-0.15},{"p":"J","x":0.13,"y":-0.15},{"p":"J","x":0.17,"y":-0.15},{"p":"J","x":0.2,"y":-0.15},{"p":"J","x":0.33,"y":-0.15},{"p":"J","x":0.37,"y":-0.15},{"p":"J","x":0.43,"y":-0.15},{"p":"J","x":0.54,"y":-0.15},{"p":"J","x":0.58,"y":-0.15},{"p":"J","x":0.65,"y":-0.15},{"p":"J","x":0.67,"y":-0.15},{"p":"J","x":0.8,"y":-0.15},{"p":"J","x":0.84,"y":-0.15},{"p":"J","x":0.88,"y":-0.15},{"p":"J","x":0.92,"y":-0.15},{"p":"J","x":0.96,"y":-0.15},{"p":"J","x":1.0,"y":-0.15},{"p":"J","x":1.04,"y":-0.15},{"p":"J","x":1.08,"y":-0.15},{"p":"J","x":1.12,"y":-0.15},{"p":"J","x":1.18,"y":-0.15},{"p":"J","x":1.21,"y":-0.15},{"p":"J","x":1.26,"y":-0.15},{"p":"J","x":1.29,"y":-0.15},{"p":"J","x":1.34,"y":-0.15},{"p":"J","x":1.38,"y":-0.15},{"p":"J","x":1.42,"y":-0.15},{"p":"J","x":1.43,"y":-0.15},{"p":"J","x":1.58,"y":-0.15},{"p":"J","x":1.6,"y":-0.15},{"p":"J","x":1.61,"y":-0.15},{"p":"J","x":1.62,"y":-0.15},{"p":"J","x":1.77,"y":-0.15},{"p":"J","x":1.86,"y":-0.15},{"p":"J","x":2.03,"y":-0.15},{"p":"J","x":2.16,"y":-0.15},{"p":"J","x":2.27,"y":-0.15},{"p":"J","x":2.79,"y":6.68},{"p":"J","x":3.11,"y":0.52},
{"p":"K","x":0,"y":-0.3},{"p":"K","x":0,"y":-0.72},{"p":"K","x":0,"y":-0.84},{"p":"K","x":0,"y":-0.93},{"p":"K","x":0.05,"y":-0.84},{"p":"K","x":0.06,"y":-0.93},{"p":"K","x":0.09,"y":0.03},{"p":"K","x":0.1,"y":-0.1},{"p":"K","x":0.13,"y":-0.84},{"p":"K","x":0.15,"y":-0.99},{"p":"K","x":0.17,"y":-0.94},{"p":"K","x":0.17,"y":-0.13},{"p":"K","x":0.2,"y":-0.84},{"p":"K","x":0.34,"y":-0.27},{"p":"K","x":0.37,"y":2.06},{"p":"K","x":0.38,"y":-0.12},{"p":"K","x":0.43,"y":-0.99},{"p":"K","x":0.53,"y":-0.93},{"p":"K","x":0.55,"y":0.6},{"p":"K","x":0.58,"y":-0.19},{"p":"K","x":0.63,"y":-0.02},{"p":"K","x":0.67,"y":-0.36},{"p":"K","x":0.68,"y":1.06},{"p":"K","x":0.79,"y":-1.01},{"p":"K","x":0.84,"y":1.35},{"p":"K","x":0.88,"y":1.32},{"p":"K","x":0.9,"y":2.17},{"p":"K","x":0.94,"y":-0.76},{"p":"K","x":1.02,"y":-0.22},{"p":"K","x":1.02,"y":-0.6},{"p":"K","x":1.07,"y":-0.47},{"p":"K","x":1.1,"y":1.49},{"p":"K","x":1.12,"y":0.67},{"p":"K","x":1.18,"y":-0.97},{"p":"K","x":1.19,"y":-0.37},{"p":"K","x":1.21,"y":-0.85},{"p":"K","x":1.24,"y":-0.99},{"p":"K","x":1.26,"y":-0.82},{"p":"K","x":1.27,"y":0.41},{"p":"K","x":1.31,"y":0.06},{"p":"K","x":1.37,"y":-0.87},{"p":"K","x":1.43,"y":-0.8},{"p":"K","x":1.44,"y":0.78},{"p":"K","x":1.58,"y":-0.99},{"p":"K","x":1.59,"y":0.16},{"p":"K","x":1.6,"y":0.86},{"p":"K","x":1.57,"y":2.08},{"p":"K","x":1.63,"y":-0.03},{"p":"K","x":1.76,"y":-0.03},{"p":"K","x":1.85,"y":1.96},{"p":"K","x":1.93,"y":0.2},{"p":"K","x":2.03,"y":1.18},{"p":"K","x":2.15,"y":0.37},{"p":"K","x":2.26,"y":-0.27},{"p":"K","x":2.6,"y":-0.26},{"p":"K","x":2.8,"y":-1.11},{"p":"K","x":2.9,"y":2.1},{"p":"K","x":3.11,"y":1.05},{"p":"K","x":3.59,"y":2.12},
{"p":"L","x":0,"y":-0.28},{"p":"L","x":0,"y":-0.51},{"p":"L","x":0,"y":-0.72},{"p":"L","x":0.05,"y":-0.67},{"p":"L","x":0.06,"y":-0.6},{"p":"L","x":0.08,"y":-0.05},{"p":"L","x":0.09,"y":0.6},{"p":"L","x":0.13,"y":-0.91},{"p":"L","x":0.15,"y":-0.6},{"p":"L","x":0.17,"y":-0.62},{"p":"L","x":0.21,"y":-0.5},{"p":"L","x":0.33,"y":-0.28},{"p":"L","x":0.37,"y":2.47},{"p":"L","x":0.37,"y":-0.44},{"p":"L","x":0.43,"y":-0.57},{"p":"L","x":0.52,"y":-0.6},{"p":"L","x":0.55,"y":0.14},{"p":"L","x":0.58,"y":-0.52},{"p":"L","x":0.63,"y":-0.67},{"p":"L","x":0.66,"y":-0.71},{"p":"L","x":0.67,"y":-0.69},{"p":"L","x":0.79,"y":-1.0},{"p":"L","x":0.85,"y":0.41},{"p":"L","x":0.87,"y":1.52},{"p":"L","x":0.89,"y":1.62},{"p":"L","x":0.94,"y":-0.48},{"p":"L","x":1.01,"y":0.07},{"p":"L","x":1.02,"y":-0.44},{"p":"L","x":1.07,"y":-0.56},{"p":"L","x":1.09,"y":0.36},{"p":"L","x":1.12,"y":-0.23},{"p":"L","x":1.18,"y":-0.85},{"p":"L","x":1.18,"y":-0.6},{"p":"L","x":1.2,"y":-0.64},{"p":"L","x":1.24,"y":-0.61},{"p":"L","x":1.25,"y":-0.6},{"p":"L","x":1.27,"y":-0.08},{"p":"L","x":1.31,"y":-0.11},{"p":"L","x":1.38,"y":-0.58},{"p":"L","x":1.42,"y":-0.7},{"p":"L","x":1.44,"y":0.41},{"p":"L","x":1.58,"y":2.49},{"p":"L","x":1.58,"y":-0.84},{"p":"L","x":1.59,"y":-0.52},{"p":"L","x":1.62,"y":-0.53},{"p":"L","x":1.61,"y":1.26},{"p":"L","x":1.76,"y":-0.28},{"p":"L","x":1.85,"y":1.54},{"p":"L","x":1.95,"y":0.1},{"p":"L","x":2.03,"y":1.42},{"p":"L","x":2.15,"y":0.67},{"p":"L","x":2.27,"y":-0.26},{"p":"L","x":2.6,"y":-0.44},{"p":"L","x":2.79,"y":-0.87},{"p":"L","x":2.89,"y":2.68},{"p":"L","x":3.11,"y":0.21},{"p":"L","x":3.59,"y":2.88},
{"p":"M","x":0,"y":0.15},{"p":"M","x":0,"y":-0.61},{"p":"M","x":0,"y":-1.37},{"p":"M","x":0.04,"y":-0.93},{"p":"M","x":0.05,"y":-0.55},{"p":"M","x":0.08,"y":0.35},{"p":"M","x":0.08,"y":-0.29},{"p":"M","x":0.12,"y":-0.7},{"p":"M","x":0.14,"y":0.07},{"p":"M","x":0.15,"y":-1.05},{"p":"M","x":0.17,"y":-1.37},{"p":"M","x":0.19,"y":-0.53},{"p":"M","x":0.31,"y":-0.34},{"p":"M","x":0.35,"y":2.0},{"p":"M","x":0.37,"y":0.44},{"p":"M","x":0.42,"y":0.17},{"p":"M","x":0.51,"y":0.8},{"p":"M","x":0.55,"y":0.07},{"p":"M","x":0.56,"y":-1.23},{"p":"M","x":0.63,"y":-0.7},{"p":"M","x":0.66,"y":-0.12},{"p":"M","x":0.67,"y":-0.64},{"p":"M","x":0.79,"y":-0.53},{"p":"M","x":0.84,"y":0.33},{"p":"M","x":0.87,"y":1.24},{"p":"M","x":0.89,"y":1.2},{"p":"M","x":0.93,"y":-0.41},{"p":"M","x":1.0,"y":0.44},{"p":"M","x":1.01,"y":-1.23},{"p":"M","x":1.06,"y":0.12},{"p":"M","x":1.08,"y":-0.21},{"p":"M","x":1.11,"y":0.38},{"p":"M","x":1.16,"y":0.12},{"p":"M","x":1.17,"y":-0.59},{"p":"M","x":1.2,"y":-0.7},{"p":"M","x":1.23,"y":0.06},{"p":"M","x":1.26,"y":-0.77},{"p":"M","x":1.26,"y":-0.07},{"p":"M","x":1.3,"y":-0.14},{"p":"M","x":1.36,"y":-1.26},{"p":"M","x":1.42,"y":-0.01},{"p":"M","x":1.43,"y":0.21},{"p":"M","x":1.57,"y":1.99},{"p":"M","x":1.58,"y":-0.44},{"p":"M","x":1.58,"y":-0.5},{"p":"M","x":1.6,"y":1.69},{"p":"M","x":1.61,"y":-0.95},{"p":"M","x":1.75,"y":0.02},{"p":"M","x":1.84,"y":1.43},{"p":"M","x":1.93,"y":0.87},{"p":"M","x":2.02,"y":1.57},{"p":"M","x":2.14,"y":0.7},{"p":"M","x":2.25,"y":-0.27},{"p":"M","x":2.58,"y":-0.01},{"p":"M","x":2.78,"y":-0.99},{"p":"M","x":2.89,"y":2.0},{"p":"M","x":3.1,"y":0.52},{"p":"M","x":3.58,"y":2.2},
{"p":"N","x":0,"y":-0.63},{"p":"N","x":0.03,"y":-0.63},{"p":"N","x":0.07,"y":-0.63},{"p":"N","x":0.11,"y":-0.63},{"p":"N","x":0.15,"y":-0.63},{"p":"N","x":0.19,"y":-0.63},{"p":"N","x":0.32,"y":-0.63},{"p":"N","x":0.39,"y":-0.63},{"p":"N","x":0.42,"y":-0.63},{"p":"N","x":0.52,"y":-0.63},{"p":"N","x":0.55,"y":-0.63},{"p":"N","x":0.59,"y":-0.63},{"p":"N","x":0.66,"y":-0.63},{"p":"N","x":0.89,"y":-0.63},{"p":"N","x":0.95,"y":-0.63},{"p":"N","x":1.02,"y":-0.63},{"p":"N","x":1.18,"y":-0.63},{"p":"N","x":1.25,"y":-0.63},{"p":"N","x":1.26,"y":-0.63},{"p":"N","x":1.29,"y":-0.63},{"p":"N","x":1.38,"y":-0.63},{"p":"N","x":1.58,"y":-0.63},{"p":"N","x":1.75,"y":-0.63},{"p":"N","x":1.85,"y":-0.63},{"p":"N","x":1.94,"y":-0.63},{"p":"N","x":2.6,"y":-0.63},{"p":"N","x":0.66,"y":-0.66},{"p":"N","x":0.95,"y":-0.67},{"p":"N","x":0.09,"y":1.11},{"p":"N","x":0.09,"y":-0.22},{"p":"N","x":0.21,"y":-0.28},{"p":"N","x":0.37,"y":-0.6},{"p":"N","x":0.64,"y":1.68},{"p":"N","x":0.8,"y":1.52},{"p":"N","x":0.84,"y":-0.34},{"p":"N","x":0.88,"y":2.01},{"p":"N","x":1.01,"y":1.02},{"p":"N","x":1.08,"y":-0.14},{"p":"N","x":1.1,"y":0.86},{"p":"N","x":1.13,"y":-0.33},{"p":"N","x":1.21,"y":-0.27},{"p":"N","x":1.32,"y":1.25},{"p":"N","x":1.43,"y":-0.46},{"p":"N","x":1.45,"y":2.07},{"p":"N","x":1.58,"y":-0.51},{"p":"N","x":1.59,"y":1.59},{"p":"N","x":1.61,"y":-0.6},{"p":"N","x":1.63,"y":-0.22},{"p":"N","x":2.04,"y":2.47},{"p":"N","x":2.16,"y":1.99},{"p":"N","x":2.28,"y":1.59},{"p":"N","x":2.8,"y":-0.6},{"p":"N","x":2.91,"y":2.45},{"p":"N","x":3.13,"y":1.67},{"p":"N","x":3.6,"y":1.73},
{"p":"O","x":0,"y":-0.22},{"p":"O","x":0.04,"y":-0.22},{"p":"O","x":0.07,"y":-0.22},{"p":"O","x":0.11,"y":-0.22},{"p":"O","x":0.14,"y":-0.22},{"p":"O","x":0.17,"y":-0.22},{"p":"O","x":0.21,"y":-0.22},{"p":"O","x":0.32,"y":-0.22},{"p":"O","x":0.36,"y":-0.22},{"p":"O","x":0.42,"y":-0.22},{"p":"O","x":0.53,"y":-0.22},{"p":"O","x":0.57,"y":-0.22},{"p":"O","x":0.62,"y":-0.22},{"p":"O","x":0.67,"y":-0.22},{"p":"O","x":0.72,"y":-0.22},{"p":"O","x":0.84,"y":-0.22},{"p":"O","x":0.87,"y":-0.22},{"p":"O","x":0.92,"y":-0.22},{"p":"O","x":1.01,"y":-0.22},{"p":"O","x":1.04,"y":-0.22},{"p":"O","x":1.09,"y":-0.22},{"p":"O","x":1.18,"y":-0.2},{"p":"O","x":1.24,"y":-0.22},{"p":"O","x":1.28,"y":-0.22},{"p":"O","x":1.31,"y":-0.22},{"p":"O","x":1.42,"y":-0.22},{"p":"O","x":1.44,"y":-0.22},{"p":"O","x":1.58,"y":-0.22},{"p":"O","x":1.59,"y":-0.22},{"p":"O","x":1.61,"y":-0.22},{"p":"O","x":1.75,"y":-0.22},{"p":"O","x":1.85,"y":-0.22},{"p":"O","x":2.03,"y":-0.22},{"p":"O","x":2.27,"y":-0.22},{"p":"O","x":3.59,"y":-0.22},{"p":"O","x":0.67,"y":0.15},{"p":"O","x":2.89,"y":-0.14},{"p":"O","x":2.79,"y":4.33},{"p":"O","x":3.11,"y":4.82},
{"p":"P","x":0,"y":-0.05},{"p":"P","x":0,"y":-0.33},{"p":"P","x":0,"y":-0.37},{"p":"P","x":0,"y":-0.59},{"p":"P","x":0.03,"y":-0.33},{"p":"P","x":0.06,"y":-0.3},{"p":"P","x":0.08,"y":-0.58},{"p":"P","x":0.09,"y":-1.18},{"p":"P","x":0.13,"y":-0.21},{"p":"P","x":0.15,"y":0.06},{"p":"P","x":0.16,"y":-0.65},{"p":"P","x":0.17,"y":-1.22},{"p":"P","x":0.21,"y":-0.2},{"p":"P","x":0.33,"y":-0.2},{"p":"P","x":0.37,"y":0.83},{"p":"P","x":0.37,"y":-0.49},{"p":"P","x":0.43,"y":0.0},{"p":"P","x":0.52,"y":-0.47},{"p":"P","x":0.55,"y":-1.0},{"p":"P","x":0.58,"y":-0.9},{"p":"P","x":0.63,"y":-0.15},{"p":"P","x":0.66,"y":-0.2},{"p":"P","x":0.68,"y":-0.25},{"p":"P","x":0.79,"y":-0.9},{"p":"P","x":0.85,"y":1.65},{"p":"P","x":0.87,"y":0.33},{"p":"P","x":0.89,"y":0.76},{"p":"P","x":0.94,"y":-1.37},{"p":"P","x":1.01,"y":-0.61},{"p":"P","x":1.02,"y":-0.41},{"p":"P","x":1.07,"y":-0.34},{"p":"P","x":1.09,"y":-0.69},{"p":"P","x":1.12,"y":-0.3},{"p":"P","x":1.18,"y":-0.38},{"p":"P","x":1.18,"y":0.1},{"p":"P","x":1.2,"y":-0.7},{"p":"P","x":1.24,"y":-1.18},{"p":"P","x":1.26,"y":-0.1},{"p":"P","x":1.26,"y":-0.25},{"p":"P","x":1.31,"y":-0.01},{"p":"P","x":1.37,"y":-0.04},{"p":"P","x":1.42,"y":-0.81},{"p":"P","x":1.44,"y":-0.49},{"p":"P","x":1.57,"y":2.15},{"p":"P","x":1.58,"y":0.58},{"p":"P","x":1.59,"y":-1.35},{"p":"P","x":1.6,"y":-0.19},{"p":"P","x":1.62,"y":-0.42},{"p":"P","x":1.76,"y":1.14},{"p":"P","x":1.85,"y":0.66},{"p":"P","x":1.93,"y":0.19},{"p":"P","x":2.03,"y":1.18},{"p":"P","x":2.15,"y":1.1},{"p":"P","x":2.27,"y":-0.36},{"p":"P","x":2.6,"y":0.55},{"p":"P","x":2.79,"y":1.38},{"p":"P","x":2.89,"y":3.24},{"p":"P","x":3.11,"y":0.55},{"p":"P","x":3.59,"y":2.96}
]
},
"concat":[
{"width":265,"height":212,"title":{"text":"VISTA——Ixazomib citrate","subtitle":"p = 8.14e-05, pearson r = -0.49","offset":-56},
"encoding":{"x":{"field":"x","type":"quantitative","scale":{"domain":[-0.18,3.77],"nice":false,"zero":false},"axis":{"title":"VISTA","values":[0,0.5,1,1.5,2,2.5,3,3.5],"labelExpr":"datum.value % 1 === 0 ? '' + datum.value : ''","gridColor":{"condition":{"test":"datum.value % 1 === 0","value":"#E4E4E4"},"value":"#F1F1F1"}}},
"y":{"field":"y","type":"quantitative","scale":{"domain":[-4.75,1.67],"nice":false,"zero":false},"axis":{"title":"Ixazomib citrate","values":[-4,-3,-2,-1,0,1],"labelExpr":"datum.value % 2 === 0 ? '' + datum.value : ''","gridColor":{"condition":{"test":"datum.value % 2 === 0","value":"#E4E4E4"},"value":"#F1F1F1"}}}},
"layer":[
{"data":{"name":"fit"},"transform":[{"filter":"datum.p === 'A'"}],"mark":"area","encoding":{"y":{"field":"lo","type":"quantitative","scale":{"domain":[-4.75,1.67],"nice":false,"zero":false}},"y2":{"field":"hi"}}},
{"data":{"name":"fit"},"transform":[{"filter":"datum.p === 'A'"}],"mark":"line"},
{"data":{"name":"pts"},"transform":[{"filter":"datum.p === 'A'"}],"mark":"circle"},
{"data":{"values":[{"t":"A"}]},"mark":"text","encoding":{"text":{"field":"t"},"x":{"value":-41},"y":{"value":-25}}}]},
{"width":265,"height":212,"title":{"text":"VISTA——Vincristine","subtitle":"p = 1.54e-04, pearson r = -0.48","offset":-56},
"encoding":{"x":{"field":"x","type":"quantitative","scale":{"domain":[-0.18,3.77],"nice":false,"zero":false},"axis":{"title":"VISTA","values":[0,0.5,1,1.5,2,2.5,3,3.5],"labelExpr":"datum.value % 1 === 0 ? '' + datum.value : ''","gridColor":{"condition":{"test":"datum.value % 1 === 0","value":"#E4E4E4"},"value":"#F1F1F1"}}},
"y":{"field":"y","type":"quantitative","scale":{"domain":[-4.28,1.24],"nice":false,"zero":false},"axis":{"title":"Vincristine","values":[-4,-3.5,-3,-2.5,-2,-1.5,-1,-0.5,0,0.5,1],"labelExpr":"datum.value % 1 === 0 ? '' + datum.value : ''","gridColor":{"condition":{"test":"datum.value % 1 === 0","value":"#E4E4E4"},"value":"#F1F1F1"}}}},
"layer":[
{"data":{"name":"fit"},"transform":[{"filter":"datum.p === 'B'"}],"mark":"area","encoding":{"y":{"field":"lo","type":"quantitative","scale":{"domain":[-4.28,1.24],"nice":false,"zero":false}},"y2":{"field":"hi"}}},
{"data":{"name":"fit"},"transform":[{"filter":"datum.p === 'B'"}],"mark":"line"},
{"data":{"name":"pts"},"transform":[{"filter":"datum.p === 'B'"}],"mark":"circle"},
{"data":{"values":[{"t":"B"}]},"mark":"text","encoding":{"text":{"field":"t"},"x":{"value":-31},"y":{"value":-25}}}]},
{"width":265,"height":212,"title":{"text":"VISTA——tepotinib","subtitle":"p = 1.87e-04, pearson r = -0.47","offset":-56},
"encoding":{"x":{"field":"x","type":"quantitative","scale":{"domain":[-0.18,3.77],"nice":false,"zero":false},"axis":{"title":"VISTA","values":[0,0.5,1,1.5,2,2.5,3,3.5],"labelExpr":"datum.value % 1 === 0 ? '' + datum.value : ''","gridColor":{"condition":{"test":"datum.value % 1 === 0","value":"#E4E4E4"},"value":"#F1F1F1"}}},
"y":{"field":"y","type":"quantitative","scale":{"domain":[-2.17,2.94],"nice":false,"zero":false},"axis":{"title":"tepotinib","values":[-2,-1.5,-1,-0.5,0,0.5,1,1.5,2,2.5],"labelExpr":"datum.value % 1 === 0 ? '' + datum.value : ''","gridColor":{"condition":{"test":"datum.value % 1 === 0","value":"#E4E4E4"},"value":"#F1F1F1"}}}},
"layer":[
{"data":{"name":"fit"},"transform":[{"filter":"datum.p === 'C'"}],"mark":"area","encoding":{"y":{"field":"lo","type":"quantitative","scale":{"domain":[-2.17,2.94],"nice":false,"zero":false}},"y2":{"field":"hi"}}},
{"data":{"name":"fit"},"transform":[{"filter":"datum.p === 'C'"}],"mark":"line"},
{"data":{"name":"pts"},"transform":[{"filter":"datum.p === 'C'"}],"mark":"circle"},
{"data":{"values":[{"t":"C"}]},"mark":"text","encoding":{"text":{"field":"t"},"x":{"value":-35},"y":{"value":-25}}}]},
{"width":265,"height":212,"title":{"text":"VISTA——MG−132","subtitle":"p = 3.31e-04, pearson r = -0.46","offset":-56},
"encoding":{"x":{"field":"x","type":"quantitative","scale":{"domain":[-0.18,3.77],"nice":false,"zero":false},"axis":{"title":"VISTA","values":[0,0.5,1,1.5,2,2.5,3,3.5],"labelExpr":"datum.value % 1 === 0 ? '' + datum.value : ''","gridColor":{"condition":{"test":"datum.value % 1 === 0","value":"#E4E4E4"},"value":"#F1F1F1"}}},
"y":{"field":"y","type":"quantitative","scale":{"domain":[-4.94,1.65],"nice":false,"zero":false},"axis":{"title":"MG−132","values":[-4,-3,-2,-1,0,1],"labelExpr":"datum.value % 2 === 0 ? '' + datum.value : ''","gridColor":{"condition":{"test":"datum.value % 2 === 0","value":"#E4E4E4"},"value":"#F1F1F1"}}}},
"layer":[
{"data":{"name":"fit"},"transform":[{"filter":"datum.p === 'D'"}],"mark":"area","encoding":{"y":{"field":"lo","type":"quantitative","scale":{"domain":[-4.94,1.65],"nice":false,"zero":false}},"y2":{"field":"hi"}}},
{"data":{"name":"fit"},"transform":[{"filter":"datum.p === 'D'"}],"mark":"line"},
{"data":{"name":"pts"},"transform":[{"filter":"datum.p === 'D'"}],"mark":"circle"},
{"data":{"values":[{"t":"D"}]},"mark":"text","encoding":{"text":{"field":"t"},"x":{"value":-25},"y":{"value":-25}}}]},
{"width":265,"height":212,"title":{"text":"VISTA——Tamoxifen","subtitle":"p = 3.13e-04, pearson r = -0.45","offset":-45},
"encoding":{"x":{"field":"x","type":"quantitative","scale":{"domain":[-0.18,3.77],"nice":false,"zero":false},"axis":{"title":"VISTA","values":[0,0.5,1,1.5,2,2.5,3,3.5],"labelExpr":"datum.value % 1 === 0 ? '' + datum.value : ''","gridColor":{"condition":{"test":"datum.value % 1 === 0","value":"#E4E4E4"},"value":"#F1F1F1"}}},
"y":{"field":"y","type":"quantitative","scale":{"domain":[-3.07,1.72],"nice":false,"zero":false},"axis":{"title":"Tamoxifen","values":[-3,-2.5,-2,-1.5,-1,-0.5,0,0.5,1,1.5],"labelExpr":"datum.value % 1 === 0 ? '' + datum.value : ''","gridColor":{"condition":{"test":"datum.value % 1 === 0","value":"#E4E4E4"},"value":"#F1F1F1"}}}},
"layer":[
{"data":{"name":"fit"},"transform":[{"filter":"datum.p === 'E'"}],"mark":"area","encoding":{"y":{"field":"lo","type":"quantitative","scale":{"domain":[-3.07,1.72],"nice":false,"zero":false}},"y2":{"field":"hi"}}},
{"data":{"name":"fit"},"transform":[{"filter":"datum.p === 'E'"}],"mark":"line"},
{"data":{"name":"pts"},"transform":[{"filter":"datum.p === 'E'"}],"mark":"circle"},
{"data":{"values":[{"t":"E"}]},"mark":"text","encoding":{"text":{"field":"t"},"x":{"value":-44},"y":{"value":-14}}}]},
{"width":265,"height":212,"title":{"text":"VISTA——SB−590885","subtitle":"p = 0.001, pearson r = -0.43","offset":-45},
"encoding":{"x":{"field":"x","type":"quantitative","scale":{"domain":[-0.18,3.77],"nice":false,"zero":false},"axis":{"title":"VISTA","values":[0,0.5,1,1.5,2,2.5,3,3.5],"labelExpr":"datum.value % 1 === 0 ? '' + datum.value : ''","gridColor":{"condition":{"test":"datum.value % 1 === 0","value":"#E4E4E4"},"value":"#F1F1F1"}}},
"y":{"field":"y","type":"quantitative","scale":{"domain":[-2.18,2.81],"nice":false,"zero":false},"axis":{"title":"SB−590885","values":[-2,-1.5,-1,-0.5,0,0.5,1,1.5,2,2.5],"labelExpr":"datum.value % 1 === 0 ? '' + datum.value : ''","gridColor":{"condition":{"test":"datum.value % 1 === 0","value":"#E4E4E4"},"value":"#F1F1F1"}}}},
"layer":[
{"data":{"name":"fit"},"transform":[{"filter":"datum.p === 'F'"}],"mark":"area","encoding":{"y":{"field":"lo","type":"quantitative","scale":{"domain":[-2.18,2.81],"nice":false,"zero":false}},"y2":{"field":"hi"}}},
{"data":{"name":"fit"},"transform":[{"filter":"datum.p === 'F'"}],"mark":"line"},
{"data":{"name":"pts"},"transform":[{"filter":"datum.p === 'F'"}],"mark":"circle"},
{"data":{"values":[{"t":"F"}]},"mark":"text","encoding":{"text":{"field":"t"},"x":{"value":-36},"y":{"value":-14}}}]},
{"width":265,"height":212,"title":{"text":"VISTA——Bortezomib","subtitle":"p = 0.001, pearson r = -0.43","offset":-45},
"encoding":{"x":{"field":"x","type":"quantitative","scale":{"domain":[-0.18,3.77],"nice":false,"zero":false},"axis":{"title":"VISTA","values":[0,0.5,1,1.5,2,2.5,3,3.5],"labelExpr":"datum.value % 1 === 0 ? '' + datum.value : ''","gridColor":{"condition":{"test":"datum.value % 1 === 0","value":"#E4E4E4"},"value":"#F1F1F1"}}},
"y":{"field":"y","type":"quantitative","scale":{"domain":[-3.74,2.04],"nice":false,"zero":false},"axis":{"title":"Bortezomib","values":[-3.5,-3,-2.5,-2,-1.5,-1,-0.5,0,0.5,1,1.5,2],"labelExpr":"datum.value % 1 === 0 ? '' + datum.value : ''","gridColor":{"condition":{"test":"datum.value % 1 === 0","value":"#E4E4E4"},"value":"#F1F1F1"}}}},
"layer":[
{"data":{"name":"fit"},"transform":[{"filter":"datum.p === 'G'"}],"mark":"area","encoding":{"y":{"field":"lo","type":"quantitative","scale":{"domain":[-3.74,2.04],"nice":false,"zero":false}},"y2":{"field":"hi"}}},
{"data":{"name":"fit"},"transform":[{"filter":"datum.p === 'G'"}],"mark":"line"},
{"data":{"name":"pts"},"transform":[{"filter":"datum.p === 'G'"}],"mark":"circle"},
{"data":{"values":[{"t":"G"}]},"mark":"text","encoding":{"text":{"field":"t"},"x":{"value":-38},"y":{"value":-14}}}]},
{"width":265,"height":212,"title":{"text":"VISTA——geldanamycin analog","subtitle":"p = 0.001, pearson r = -0.42","offset":-45},
"encoding":{"x":{"field":"x","type":"quantitative","scale":{"domain":[-0.18,3.77],"nice":false,"zero":false},"axis":{"title":"VISTA","values":[0,0.5,1,1.5,2,2.5,3,3.5],"labelExpr":"datum.value % 1 === 0 ? '' + datum.value : ''","gridColor":{"condition":{"test":"datum.value % 1 === 0","value":"#E4E4E4"},"value":"#F1F1F1"}}},
"y":{"field":"y","type":"quantitative","scale":{"domain":[-3.16,1.09],"nice":false,"zero":false},"axis":{"title":"geldanamycin analog","values":[-3,-2.5,-2,-1.5,-1,-0.5,0,0.5,1],"labelExpr":"datum.value % 1 === 0 ? '' + datum.value : ''","gridColor":{"condition":{"test":"datum.value % 1 === 0","value":"#E4E4E4"},"value":"#F1F1F1"}}}},
"layer":[
{"data":{"name":"fit"},"transform":[{"filter":"datum.p === 'H'"}],"mark":"area","encoding":{"y":{"field":"lo","type":"quantitative","scale":{"domain":[-3.16,1.09],"nice":false,"zero":false}},"y2":{"field":"hi"}}},
{"data":{"name":"fit"},"transform":[{"filter":"datum.p === 'H'"}],"mark":"line"},
{"data":{"name":"pts"},"transform":[{"filter":"datum.p === 'H'"}],"mark":"circle"},
{"data":{"values":[{"t":"H"}]},"mark":"text","encoding":{"text":{"field":"t"},"x":{"value":-25},"y":{"value":-14}}}]},
{"width":265,"height":212,"title":{"text":"VISTA——EGF−816","subtitle":"p = 0.003, pearson r = 0.38","offset":-47},
"encoding":{"x":{"field":"x","type":"quantitative","scale":{"domain":[-0.18,3.77],"nice":false,"zero":false},"axis":{"title":"VISTA","values":[0,0.5,1,1.5,2,2.5,3,3.5],"labelExpr":"datum.value % 1 === 0 ? '' + datum.value : ''","gridColor":{"condition":{"test":"datum.value % 1 === 0","value":"#E4E4E4"},"value":"#F1F1F1"}}},
"y":{"field":"y","type":"quantitative","scale":{"domain":[-1.11,3.25],"nice":false,"zero":false},"axis":{"title":"EGF−816","values":[-1,-0.5,0,0.5,1,1.5,2,2.5,3],"labelExpr":"datum.value % 1 === 0 ? '' + datum.value : ''","gridColor":{"condition":{"test":"datum.value % 1 === 0","value":"#E4E4E4"},"value":"#F1F1F1"}}}},
"layer":[
{"data":{"name":"fit"},"transform":[{"filter":"datum.p === 'I'"}],"mark":"area","encoding":{"y":{"field":"lo","type":"quantitative","scale":{"domain":[-1.11,3.25],"nice":false,"zero":false}},"y2":{"field":"hi"}}},
{"data":{"name":"fit"},"transform":[{"filter":"datum.p === 'I'"}],"mark":"line"},
{"data":{"name":"pts"},"transform":[{"filter":"datum.p === 'I'"}],"mark":"circle"},
{"data":{"values":[{"t":"I"}]},"mark":"text","encoding":{"text":{"field":"t"},"x":{"value":-40},"y":{"value":-16}}}]},
{"width":265,"height":212,"title":{"text":"VISTA——Methylprednisolone","subtitle":"p = 0.006, pearson r = 0.39","offset":-47},
"encoding":{"x":{"field":"x","type":"quantitative","scale":{"domain":[-0.156,3.27],"nice":false,"zero":false},"axis":{"title":"VISTA","values":[0,0.5,1,1.5,2,2.5,3],"labelExpr":"datum.value % 1 === 0 ? '' + datum.value : ''","gridColor":{"condition":{"test":"datum.value % 1 === 0","value":"#E4E4E4"},"value":"#F1F1F1"}}},
"y":{"field":"y","type":"quantitative","scale":{"domain":[-1.38,7.06],"nice":false,"zero":false},"axis":{"title":"Methylprednisolone","values":[-1.25,0,1.25,2.5,3.75,5,6.25],"labelExpr":"datum.value % 2.5 === 0 ? format(datum.value, '.1f') : ''","gridColor":{"condition":{"test":"datum.value % 2.5 === 0","value":"#E4E4E4"},"value":"#F1F1F1"}}}},
"layer":[
{"data":{"name":"fit"},"transform":[{"filter":"datum.p === 'J'"}],"mark":"area","encoding":{"y":{"field":"lo","type":"quantitative","scale":{"domain":[-1.38,7.06],"nice":false,"zero":false}},"y2":{"field":"hi"}}},
{"data":{"name":"fit"},"transform":[{"filter":"datum.p === 'J'"}],"mark":"line"},
{"data":{"name":"pts"},"transform":[{"filter":"datum.p === 'J'"}],"mark":"circle"},
{"data":{"values":[{"t":"J"}]},"mark":"text","encoding":{"text":{"field":"t"},"x":{"value":-38},"y":{"value":-16}}}]},
{"width":265,"height":212,"title":{"text":"VISTA——BMS−690514","subtitle":"p = 0.002, pearson r = 0.40","offset":-47},
"encoding":{"x":{"field":"x","type":"quantitative","scale":{"domain":[-0.18,3.77],"nice":false,"zero":false},"axis":{"title":"VISTA","values":[0,0.5,1,1.5,2,2.5,3,3.5],"labelExpr":"datum.value % 1 === 0 ? '' + datum.value : ''","gridColor":{"condition":{"test":"datum.value % 1 === 0","value":"#E4E4E4"},"value":"#F1F1F1"}}},
"y":{"field":"y","type":"quantitative","scale":{"domain":[-1.27,2.33],"nice":false,"zero":false},"axis":{"title":"BMS−690514","values":[-1,-0.5,0,0.5,1,1.5,2],"labelExpr":"datum.value % 1 === 0 ? '' + datum.value : ''","gridColor":{"condition":{"test":"datum.value % 1 === 0","value":"#E4E4E4"},"value":"#F1F1F1"}}}},
"layer":[
{"data":{"name":"fit"},"transform":[{"filter":"datum.p === 'K'"}],"mark":"area","encoding":{"y":{"field":"lo","type":"quantitative","scale":{"domain":[-1.27,2.33],"nice":false,"zero":false}},"y2":{"field":"hi"}}},
{"data":{"name":"fit"},"transform":[{"filter":"datum.p === 'K'"}],"mark":"line"},
{"data":{"name":"pts"},"transform":[{"filter":"datum.p === 'K'"}],"mark":"circle"},
{"data":{"values":[{"t":"K"}]},"mark":"text","encoding":{"text":{"field":"t"},"x":{"value":-38},"y":{"value":-16}}}]},
{"width":265,"height":212,"title":{"text":"VISTA——Sapitinib","subtitle":"p = 0.001, pearson r = 0.41","offset":-47},
"encoding":{"x":{"field":"x","type":"quantitative","scale":{"domain":[-0.18,3.77],"nice":false,"zero":false},"axis":{"title":"VISTA","values":[0,0.5,1,1.5,2,2.5,3,3.5],"labelExpr":"datum.value % 1 === 0 ? '' + datum.value : ''","gridColor":{"condition":{"test":"datum.value % 1 === 0","value":"#E4E4E4"},"value":"#F1F1F1"}}},
"y":{"field":"y","type":"quantitative","scale":{"domain":[-1.19,3.07],"nice":false,"zero":false},"axis":{"title":"Sapitinib","values":[-1,-0.5,0,0.5,1,1.5,2,2.5,3],"labelExpr":"datum.value % 1 === 0 ? '' + datum.value : ''","gridColor":{"condition":{"test":"datum.value % 1 === 0","value":"#E4E4E4"},"value":"#F1F1F1"}}}},
"layer":[
{"data":{"name":"fit"},"transform":[{"filter":"datum.p === 'L'"}],"mark":"area","encoding":{"y":{"field":"lo","type":"quantitative","scale":{"domain":[-1.19,3.07],"nice":false,"zero":false}},"y2":{"field":"hi"}}},
{"data":{"name":"fit"},"transform":[{"filter":"datum.p === 'L'"}],"mark":"line"},
{"data":{"name":"pts"},"transform":[{"filter":"datum.p === 'L'"}],"mark":"circle"},
{"data":{"values":[{"t":"L"}]},"mark":"text","encoding":{"text":{"field":"t"},"x":{"value":-26},"y":{"value":-16}}}]},
{"width":265,"height":212,"title":{"text":"VISTA——Erlotinib","subtitle":"p = 0.001, pearson r = 0.43","offset":-43},
"encoding":{"x":{"field":"x","type":"quantitative","scale":{"domain":[-0.18,3.77],"nice":false,"zero":false},"axis":{"title":"VISTA","values":[0,0.5,1,1.5,2,2.5,3,3.5],"labelExpr":"datum.value % 1 === 0 ? '' + datum.value : ''","gridColor":{"condition":{"test":"datum.value % 1 === 0","value":"#E4E4E4"},"value":"#F1F1F1"}}},
"y":{"field":"y","type":"quantitative","scale":{"domain":[-1.55,2.38],"nice":false,"zero":false},"axis":{"title":"Erlotinib","values":[-1.5,-1,-0.5,0,0.5,1,1.5,2],"labelExpr":"datum.value % 1 === 0 ? '' + datum.value : ''","gridColor":{"condition":{"test":"datum.value % 1 === 0","value":"#E4E4E4"},"value":"#F1F1F1"}}}},
"layer":[
{"data":{"name":"fit"},"transform":[{"filter":"datum.p === 'M'"}],"mark":"area","encoding":{"y":{"field":"lo","type":"quantitative","scale":{"domain":[-1.55,2.38],"nice":false,"zero":false}},"y2":{"field":"hi"}}},
{"data":{"name":"fit"},"transform":[{"filter":"datum.p === 'M'"}],"mark":"line"},
{"data":{"name":"pts"},"transform":[{"filter":"datum.p === 'M'"}],"mark":"circle"},
{"data":{"values":[{"t":"M"}]},"mark":"text","encoding":{"text":{"field":"t"},"x":{"value":-40},"y":{"value":-12}}}]},
{"width":265,"height":212,"title":{"text":"VISTA——SW−044248","subtitle":"p = 3.46e-04, pearson r = 0.45","offset":-43},
"encoding":{"x":{"field":"x","type":"quantitative","scale":{"domain":[-0.18,3.77],"nice":false,"zero":false},"axis":{"title":"VISTA","values":[0,0.5,1,1.5,2,2.5,3,3.5],"labelExpr":"datum.value % 1 === 0 ? '' + datum.value : ''","gridColor":{"condition":{"test":"datum.value % 1 === 0","value":"#E4E4E4"},"value":"#F1F1F1"}}},
"y":{"field":"y","type":"quantitative","scale":{"domain":[-1.1,2.64],"nice":false,"zero":false},"axis":{"title":"SW−044248","values":[-1,-0.5,0,0.5,1,1.5,2,2.5],"labelExpr":"datum.value % 1 === 0 ? '' + datum.value : ''","gridColor":{"condition":{"test":"datum.value % 1 === 0","value":"#E4E4E4"},"value":"#F1F1F1"}}}},
"layer":[
{"data":{"name":"fit"},"transform":[{"filter":"datum.p === 'N'"}],"mark":"area","encoding":{"y":{"field":"lo","type":"quantitative","scale":{"domain":[-1.1,2.64],"nice":false,"zero":false}},"y2":{"field":"hi"}}},
{"data":{"name":"fit"},"transform":[{"filter":"datum.p === 'N'"}],"mark":"line"},
{"data":{"name":"pts"},"transform":[{"filter":"datum.p === 'N'"}],"mark":"circle"},
{"data":{"values":[{"t":"N"}]},"mark":"text","encoding":{"text":{"field":"t"},"x":{"value":-42},"y":{"value":-12}}}]},
{"width":265,"height":212,"title":{"text":"VISTA——Dexamethasone","subtitle":"p = 0.001, pearson r = 0.46","offset":-43},
"encoding":{"x":{"field":"x","type":"quantitative","scale":{"domain":[-0.18,3.77],"nice":false,"zero":false},"axis":{"title":"VISTA","values":[0,0.5,1,1.5,2,2.5,3,3.5],"labelExpr":"datum.value % 1 === 0 ? '' + datum.value : ''","gridColor":{"condition":{"test":"datum.value % 1 === 0","value":"#E4E4E4"},"value":"#F1F1F1"}}},
"y":{"field":"y","type":"quantitative","scale":{"domain":[-1.3,5.11],"nice":false,"zero":false},"axis":{"title":"Dexamethasone","values":[-1,-0.5,0,0.5,1,1.5,2,2.5,3,3.5,4,4.5,5],"labelExpr":"datum.value % 1 === 0 ? '' + datum.value : ''","gridColor":{"condition":{"test":"datum.value % 1 === 0","value":"#E4E4E4"},"value":"#F1F1F1"}}}},
"layer":[
{"data":{"name":"fit"},"transform":[{"filter":"datum.p === 'O'"}],"mark":"area","encoding":{"y":{"field":"lo","type":"quantitative","scale":{"domain":[-1.3,5.11],"nice":false,"zero":false}},"y2":{"field":"hi"}}},
{"data":{"name":"fit"},"transform":[{"filter":"datum.p === 'O'"}],"mark":"line"},
{"data":{"name":"pts"},"transform":[{"filter":"datum.p === 'O'"}],"mark":"circle"},
{"data":{"values":[{"t":"O"}]},"mark":"text","encoding":{"text":{"field":"t"},"x":{"value":-37},"y":{"value":-12}}}]},
{"width":265,"height":212,"title":{"text":"VISTA——Gefitinib","subtitle":"p = 8.87e-07, pearson r = 0.59","offset":-43},
"encoding":{"x":{"field":"x","type":"quantitative","scale":{"domain":[-0.18,3.77],"nice":false,"zero":false},"axis":{"title":"VISTA","values":[0,0.5,1,1.5,2,2.5,3,3.5],"labelExpr":"datum.value % 1 === 0 ? '' + datum.value : ''","gridColor":{"condition":{"test":"datum.value % 1 === 0","value":"#E4E4E4"},"value":"#F1F1F1"}}},
"y":{"field":"y","type":"quantitative","scale":{"domain":[-1.6,3.47],"nice":false,"zero":false},"axis":{"title":"Gefitinib","values":[-1.5,-1,-0.5,0,0.5,1,1.5,2,2.5,3],"labelExpr":"datum.value % 1 === 0 ? '' + datum.value : ''","gridColor":{"condition":{"test":"datum.value % 1 === 0","value":"#E4E4E4"},"value":"#F1F1F1"}}}},
"layer":[
{"data":{"name":"fit"},"transform":[{"filter":"datum.p === 'P'"}],"mark":"area","encoding":{"y":{"field":"lo","type":"quantitative","scale":{"domain":[-1.6,3.47],"nice":false,"zero":false}},"y2":{"field":"hi"}}},
{"data":{"name":"fit"},"transform":[{"filter":"datum.p === 'P'"}],"mark":"line"},
{"data":{"name":"pts"},"transform":[{"filter":"datum.p === 'P'"}],"mark":"circle"},
{"data":{"values":[{"t":"P"}]},"mark":"text","encoding":{"text":{"field":"t"},"x":{"value":-24},"y":{"value":-12}}}]}
]
}
